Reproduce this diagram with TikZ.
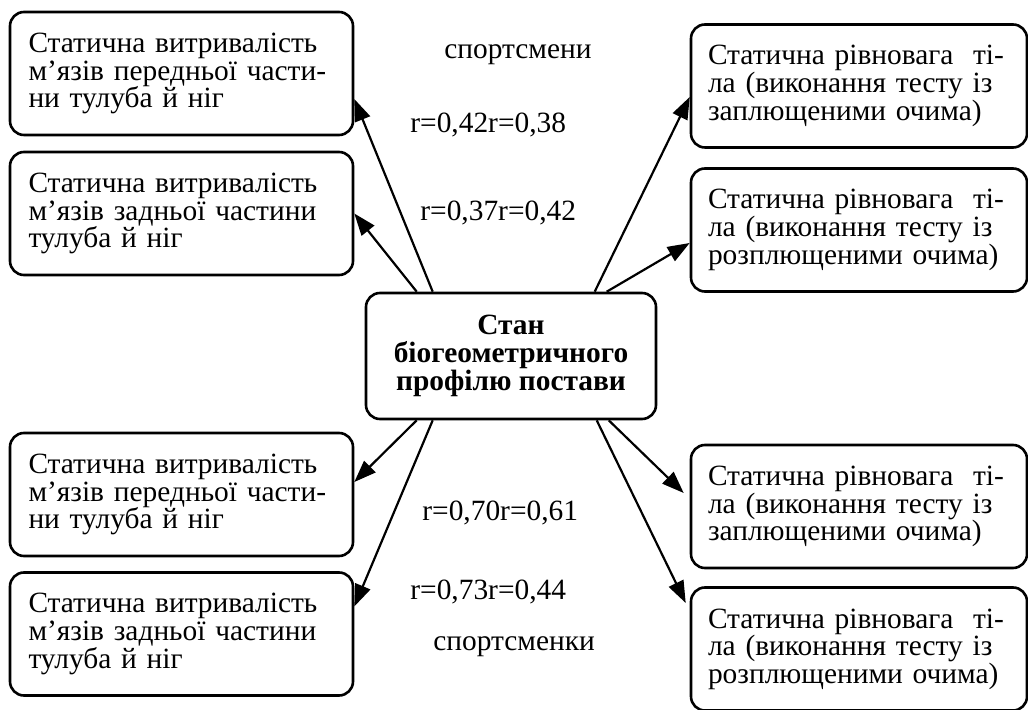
\documentclass[tikz,border=0pt]{standalone}
\usepackage{fontspec}
\setmainfont{Liberation Serif}
\usepackage{tikz}
\usetikzlibrary{arrows.meta}
\setlength{\lineskiplimit}{-20pt}

\begin{document}
\begin{tikzpicture}[x=0.5pt,y=-0.5pt,
  box/.style={draw, line width=1.3pt, rounded corners=7pt, align=left, minimum height=61.5pt,
    font=\fontsize{14.7}{13.8}\selectfont},
  lbox/.style={box, text width=153pt, inner xsep=9.25pt},
  rbox/.style={box, text width=151pt, inner xsep=8.5pt},
  cbox/.style={box, align=center, minimum width=145pt, minimum height=63pt,
    font=\fontsize{14.7}{13.8}\selectfont\bfseries},
  lbl/.style={anchor=west, inner sep=0pt, font=\fontsize{14.7}{13.8}\selectfont},
  arr/.style={-{Triangle[length=11pt,width=8pt]}, line width=1.1pt}]
\useasboundingbox (0,0) rectangle (1028,710);
\node[cbox] (C) at (511,356) {Стан\\біогеометричного\\профілю постави};
\node[lbox] (L1) at (181.5,73.5) {Статична витривалість\\м’язів передньої части-\\ни тулуба й ніг};
\node[lbox] (L2) at (181.5,213.5) {Статична витривалість\\м’язів задньої частини\\тулуба й ніг};
\node[lbox] (L3) at (181.5,494.5) {Статична витривалість\\м’язів передньої части-\\ни тулуба й ніг};
\node[lbox] (L4) at (181.5,634) {Статична витривалість\\м’язів задньої частини\\тулуба й ніг};
\node[rbox] (R1) at (859,86) {Статична рівновага~ ті-\\ла (виконання тесту із\\заплющеними очима)};
\node[rbox] (R2) at (859,230) {Статична рівновага~ ті-\\ла (виконання тесту із\\розплющеними очима)};
\node[rbox] (R3) at (859,506.5) {Статична рівновага~ ті-\\ла (виконання тесту із\\заплющеними очима)};
\node[rbox] (R4) at (859,649) {Статична рівновага~ ті-\\ла (виконання тесту із\\розплющеними очима)};
\node[lbl] (men) at (444,55) {спортсмени};
\node[lbl] (rA) at (410,125) {r=0,42r=0,38};
\node[lbl] (rB) at (420,213) {r=0,37r=0,42};
\node[lbl] (rC) at (422,513) {r=0,70r=0,61};
\node[lbl] (rD) at (410,592) {r=0,73r=0,44};
\node[lbl] (women) at (433,647) {спортсменки};
\draw[arr] ([xshift=34pt]C.north west) -- ([yshift=-12.75pt]L1.east);
\draw[arr] ([xshift=26pt]C.north west) -- (L2.east);
\draw[arr] ([xshift=115pt]C.north west) -- ([yshift=-5.5pt]R1.west);
\draw[arr] ([xshift=121pt]C.north west) -- ([yshift=-6.5pt]R2.west);
\draw[arr] ([xshift=26pt]C.south west) -- ([yshift=6.25pt]L3.east);
\draw[arr] ([xshift=34pt]C.south west) -- ([yshift=13.75pt]L4.east);
\draw[arr] ([xshift=122pt]C.south west) -- ([xshift=-3pt,yshift=6.75pt]R3.west);
\draw[arr] ([xshift=116pt]C.south west) -- ([xshift=-2pt,yshift=23pt]R4.west);
\end{tikzpicture}
\end{document}
